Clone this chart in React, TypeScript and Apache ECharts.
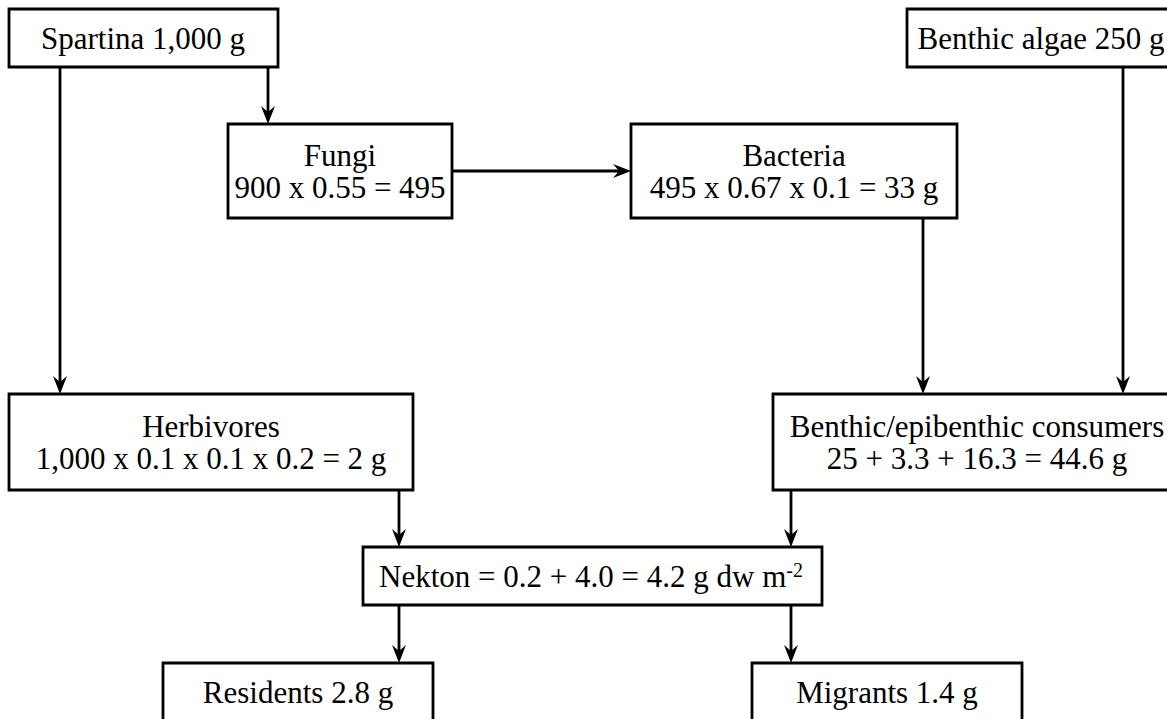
import React, { useEffect, useRef } from "react";
import * as echarts from "echarts";

// ---- Data: node labels (text content of each box) ----
const nodeIds = ["spartina", "algae", "fungi", "bacteria", "herbivores", "benthic", "nekton", "residents", "migrants"];
const nodeLabels = [
  "Spartina 1,000 g",
  "Benthic algae 250 g",
  "Fungi\n900 x 0.55 = 495",
  "Bacteria\n495 x 0.67 x 0.1 = 33 g",
  "Herbivores\n1,000 x 0.1 x 0.1 x 0.2 = 2 g",
  "Benthic/epibenthic consumers\n25 + 3.3 + 16.3 = 44.6 g",
  "Nekton = 0.2 + 4.0 = 4.2 g dw m{sup|-2}",
  "Residents 2.8 g",
  "Migrants 1.4 g",
];
// flows: [from, to]
const edgeFrom = ["spartina", "spartina", "fungi", "bacteria", "algae", "herbivores", "benthic", "nekton", "nekton"];
const edgeTo = ["herbivores", "fungi", "bacteria", "benthic", "benthic", "nekton", "nekton", "residents", "migrants"];

// ---- Layout (positions / sizes only) ----
const boxLayout: Record<string, { x: number; y: number; w: number; h: number; tx: number }> = {
  spartina: { x: 9, y: 9, w: 269, h: 58, tx: 143 },
  algae: { x: 907, y: 9, w: 275, h: 58, tx: 1041 },
  fungi: { x: 228, y: 124, w: 224, h: 94, tx: 340 },
  bacteria: { x: 631, y: 124, w: 326, h: 94, tx: 794 },
  herbivores: { x: 9, y: 394, w: 404, h: 96, tx: 211 },
  benthic: { x: 773, y: 394, w: 410, h: 96, tx: 977 },
  nekton: { x: 363, y: 547, w: 459, h: 58, tx: 591 },
  residents: { x: 163, y: 663, w: 270, h: 58, tx: 298 },
  migrants: { x: 752, y: 663, w: 270, h: 58, tx: 887 },
};
// anchor coordinate for each edge (x for vertical, y for horizontal)
const edgeAnchor = [60, 268, 171, 923, 1123, 399, 791, 399, 791];
const edgeDir = ["v", "v", "h", "v", "v", "v", "v", "v", "v"];

const FONT = "'Liberation Serif', 'Times New Roman', serif";
const FS = 31;
const LH = 32;
const LW = 2.8;

function arrowHead(x: number, y: number, dir: string) {
  // tip at (x, y)
  const L = 18, W = 7, N = 12;
  let pts: number[][];
  if (dir === "v") {
    pts = [[x, y], [x - W, y - L], [x, y - N], [x + W, y - L]];
  } else {
    pts = [[x, y], [x - L, y - W], [x - N, y], [x - L, y + W]];
  }
  return {
    type: "polygon",
    shape: { points: pts },
    style: { fill: "#000", stroke: "none" },
    z: 10,
  };
}

export default function App() {
  const ref = useRef<HTMLDivElement>(null);
  useEffect(() => {
    if (!ref.current) return;
    const chart = echarts.init(ref.current, null, { renderer: "svg" });
    const elements: any[] = [];
    nodeIds.forEach((id, i) => {
      const b = boxLayout[id];
      elements.push({
        type: "rect",
        shape: { x: b.x, y: b.y, width: b.w, height: b.h },
        style: { fill: "#fff", stroke: "#000", lineWidth: LW },
        z: 5,
      });
      elements.push({
        type: "text",
        x: b.tx,
        y: b.y + b.h / 2,
        z: 6,
        style: {
          text: nodeLabels[i],
          fill: "#000",
          fontSize: FS,
          fontFamily: FONT,
          lineHeight: LH,
          align: "center",
          verticalAlign: "middle",
          rich: {
            sup: { fontSize: 20, fontFamily: FONT, fill: "#000", verticalAlign: "top", lineHeight: LH, padding: [0, 0, 12, 0] },
          },
        },
      });
    });
    edgeFrom.forEach((from, i) => {
      const a = boxLayout[from];
      const b = boxLayout[edgeTo[i]];
      const c = edgeAnchor[i];
      if (edgeDir[i] === "v") {
        const y1 = a.y + a.h;
        const y2 = b.y;
        elements.push({
          type: "line",
          shape: { x1: c, y1, x2: c, y2: y2 - 8 },
          style: { stroke: "#000", lineWidth: LW },
          z: 8,
        });
        elements.push(arrowHead(c, y2, "v"));
      } else {
        const x1 = a.x + a.w;
        const x2 = b.x;
        elements.push({
          type: "line",
          shape: { x1, y1: c, x2: x2 - 8, y2: c },
          style: { stroke: "#000", lineWidth: LW },
          z: 8,
        });
        elements.push(arrowHead(x2, c, "h"));
      }
    });
    chart.setOption({
      animation: false,
      backgroundColor: "#fff",
      graphic: { elements },
    });
    return () => chart.dispose();
  }, []);
  return (
    <div
      ref={ref}
      style={{ position: "fixed", left: 0, top: 0, width: 1167, height: 719, background: "#fff" }}
    />
  );
}
